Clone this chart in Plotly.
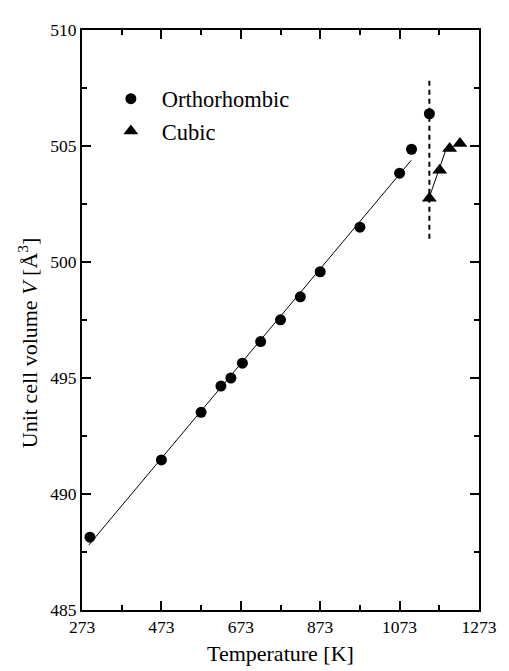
import plotly.graph_objects as go

# Data
ortho_T = [293, 473, 573, 623, 648, 677, 723, 773, 823, 873, 973, 1073, 1103, 1148]
ortho_V = [488.14, 491.47, 493.52, 494.65, 495.0, 495.64, 496.57, 497.51, 498.5, 499.58, 501.5, 503.83, 504.86, 506.39]
cubic_T = [1148, 1174, 1199, 1225]
cubic_V = [502.75, 503.95, 504.89, 505.11]
fit_ortho_T = [290, 1102]
fit_ortho_V = [487.8, 504.38]
fit_cubic_T = [1148, 1192]
fit_cubic_V = [502.8, 504.95]
trans_T = [1148, 1148]
trans_V = [501.0, 507.9]
x_ticks = [273, 473, 673, 873, 1073, 1273]
y_ticks = [485, 490, 495, 500, 505, 510]

FONT = "Liberation Serif, Times New Roman, serif"

fig = go.Figure()
fig.add_trace(go.Scatter(x=fit_ortho_T, y=fit_ortho_V, mode="lines",
                         line=dict(color="black", width=1), showlegend=False, hoverinfo="skip"))
fig.add_trace(go.Scatter(x=fit_cubic_T, y=fit_cubic_V, mode="lines",
                         line=dict(color="black", width=1), showlegend=False, hoverinfo="skip"))
fig.add_trace(go.Scatter(x=trans_T, y=trans_V, mode="lines",
                         line=dict(color="black", width=2, dash="5px,4px"), showlegend=False, hoverinfo="skip"))
fig.add_trace(go.Scatter(x=ortho_T, y=ortho_V, mode="markers", name="Orthorhombic",
                         marker=dict(symbol="circle", size=11, color="black")))
fig.add_trace(go.Scatter(x=cubic_T, y=cubic_V, mode="markers", name="Cubic",
                         marker=dict(symbol="triangle-up", size=13, color="black")))

axis_common = dict(showline=True, linecolor="black", linewidth=2, mirror="ticks",
                   ticks="inside", ticklen=9, tickwidth=2, tickcolor="black",
                   showgrid=False, zeroline=False,
                   tickfont=dict(family=FONT, size=17.5, color="black"))
fig.update_xaxes(range=[273, 1273], tickvals=x_ticks, ticktext=[str(v) for v in x_ticks],
                 minor=dict(ticks="inside", dtick=100, tick0=273, ticklen=5, tickwidth=2, tickcolor="black"),
                 **axis_common)
fig.update_yaxes(range=[485, 510], tickvals=y_ticks, ticktext=[str(v) for v in y_ticks],
                 minor=dict(ticks="inside", dtick=2.5, tick0=485, ticklen=5, tickwidth=2, tickcolor="black"),
                 **axis_common)

# The page body has an 8px margin, so the figure is sized/offset to compensate.
fig.update_layout(
    width=501, height=663,
    margin=dict(l=74, r=18, t=13, b=61),
    paper_bgcolor="white", plot_bgcolor="white",
    font=dict(family=FONT, color="black"),
    legend=dict(x=0.045, y=0.918, xanchor="left", yanchor="top",
                font=dict(family=FONT, size=22.5, color="black"),
                bgcolor="rgba(0,0,0,0)", itemwidth=52, tracegroupgap=0),
    annotations=[
        dict(text="Temperature [K]", xref="paper", yref="paper", x=0.5, y=-0.1,
             xanchor="center", yanchor="bottom", showarrow=False,
             font=dict(family=FONT, size=22, color="black")),
        dict(text="Unit cell volume <i>V</i> [Å<sup>3</sup>]", xref="paper", yref="paper",
             x=-0.137, y=0.461, xanchor="center", yanchor="middle", textangle=-90,
             showarrow=False, font=dict(family=FONT, size=22, color="black")),
    ],
)

fig.write_html("out.html")
